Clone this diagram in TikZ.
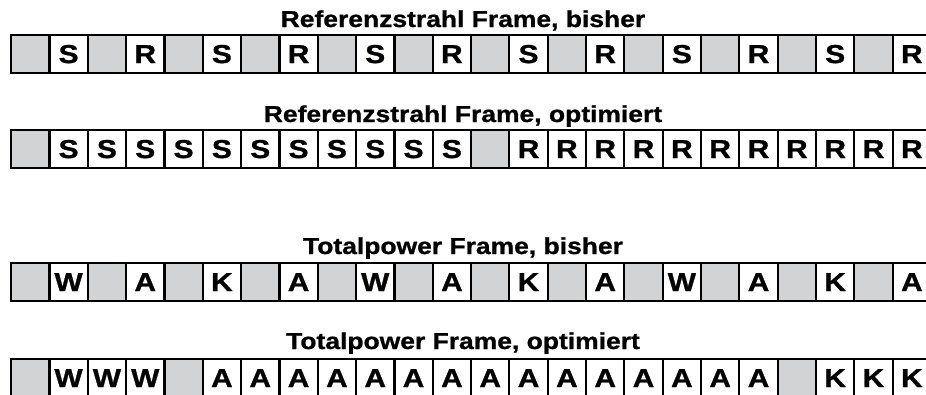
\documentclass[tikz,border=0pt]{standalone}
\usepackage{fontspec}
\setmainfont{Liberation Sans}
\newfontfamily\framefont[FakeStretch=1.15, FakeBold=1]{Liberation Sans}
\usepackage{tikz}
\usepackage{xcolor, ifthen}
\definecolor{cellgray}{RGB}{209,211,212}

\tikzset{
  cell/.style={draw=black, line width=2.2pt, anchor=north west, minimum width=38.33pt,
    minimum height=38pt, inner sep=0pt, font=\framefont\bfseries\fontsize{26}{26}\selectfont},
  gap/.style={cell, fill=cellgray},
  title/.style={anchor=base, font=\framefont\bfseries\fontsize{23}{23}\selectfont}
}

\begin{document}
\begin{tikzpicture}[x=1pt, y=-1pt]
    \useasboundingbox (0,0) rectangle (926,394);

    % Referenzstrahl, bisher
    \node[title] (ta) at (463,27) {Referenzstrahl Frame, bisher};
    \foreach \lab [count=\i from 0] in {-,S,-,R,-,S,-,R,-,S,-,R,-,S,-,R,-,S,-,R,-,S,-,R} {
        \ifthenelse{\equal{\lab}{-}}
            {\node[gap] (a\i) at (10+38.33*\i,34) {};}
            {\node[cell] (a\i) at (10+38.33*\i,34) {\lab};}
    }

    % Referenzstrahl, optimiert
    \node[title] (tb) at (463,122) {Referenzstrahl Frame, optimiert};
    \foreach \lab [count=\i from 0] in {-,S,S,S,S,S,S,S,S,S,S,S,-,R,R,R,R,R,R,R,R,R,R,R} {
        \ifthenelse{\equal{\lab}{-}}
            {\node[gap] (b\i) at (10+38.33*\i,129) {};}
            {\node[cell] (b\i) at (10+38.33*\i,129) {\lab};}
    }

    % Totalpower, bisher
    \node[title] (tc) at (463,254) {Totalpower Frame, bisher};
    \foreach \lab [count=\i from 0] in {-,W,-,A,-,K,-,A,-,W,-,A,-,K,-,A,-,W,-,A,-,K,-,A} {
        \ifthenelse{\equal{\lab}{-}}
            {\node[gap] (c\i) at (10+38.33*\i,262) {};}
            {\node[cell] (c\i) at (10+38.33*\i,262) {\lab};}
    }

    % Totalpower, optimiert
    \node[title] (td) at (463,349) {Totalpower Frame, optimiert};
    \foreach \lab [count=\i from 0] in {-,W,W,W,-,A,A,A,A,A,A,A,A,A,A,A,A,A,A,A,-,K,K,K} {
        \ifthenelse{\equal{\lab}{-}}
            {\node[gap] (d\i) at (10+38.33*\i,358) {};}
            {\node[cell] (d\i) at (10+38.33*\i,358) {\lab};}
    }
\end{tikzpicture}
\end{document}
